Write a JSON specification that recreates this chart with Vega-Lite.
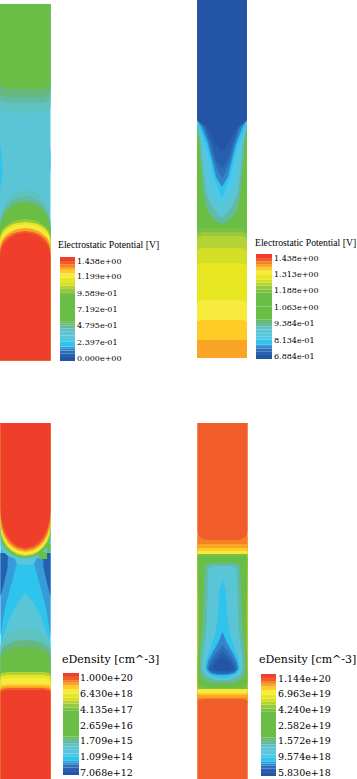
{"$schema":"https://vega.github.io/schema/vega-lite/v6.json","padding":0,"background":"white","config":{"view":{"stroke":null}},"spacing":60,
"datasets":{
"legendBands":[{"level":0,"from":0,"to":1},{"level":1,"from":1,"to":1.9},{"level":2,"from":1.9,"to":2.6},{"level":3,"from":2.6,"to":3.2},{"level":4,"from":3.2,"to":3.6},{"level":5,"from":3.6,"to":4.8},{"level":6,"from":4.8,"to":5.5},{"level":7,"from":5.5,"to":6.4},{"level":8,"from":6.4,"to":7.3},{"level":9,"from":7.3,"to":8.1},{"level":10,"from":8.1,"to":8.9},{"level":11,"from":8.9,"to":9.4},{"level":12,"from":9.4,"to":9.8},{"level":13,"from":9.8,"to":13},{"level":14,"from":13,"to":16.5},{"level":15,"from":16.5,"to":17.2},{"level":16,"from":17.2,"to":18.2},{"level":17,"from":18.2,"to":18.9},{"level":18,"from":18.9,"to":19.7},{"level":19,"from":19.7,"to":20.8},{"level":20,"from":20.8,"to":21.9},{"level":21,"from":21.9,"to":22.8},{"level":22,"from":22.8,"to":23.5},{"level":23,"from":23.5,"to":24.2},{"level":24,"from":24.2,"to":25},{"level":25,"from":25,"to":26}],
"p1":[
{"s":1,"l":8,"y":4,"a":0,"b":50.5},{"s":1,"l":8,"y":360.5,"a":0,"b":50.5},
{"s":2,"l":9,"y":4,"a":0,"b":50.5},{"s":2,"l":9,"y":108,"a":0,"b":50.5},{"s":2,"l":9,"y":112,"a":4,"b":46.5},{"s":2,"l":9,"y":113,"a":10,"b":40.5},
{"s":3,"l":10,"y":4,"a":0,"b":50.5},{"s":3,"l":10,"y":99,"a":0,"b":50.5},{"s":3,"l":10,"y":102,"a":4,"b":46.5},{"s":3,"l":10,"y":103,"a":10,"b":40.5},
{"s":4,"l":11,"y":4,"a":0,"b":50.5},{"s":4,"l":11,"y":93,"a":0,"b":50.5},{"s":4,"l":11,"y":96,"a":4,"b":46.5},{"s":4,"l":11,"y":97,"a":10,"b":40.5},
{"s":5,"l":13,"y":4,"a":0,"b":50.5},{"s":5,"l":13,"y":84,"a":0,"b":50.5},{"s":5,"l":13,"y":87,"a":2,"b":48.5},{"s":5,"l":13,"y":89,"a":8,"b":42},
{"s":6,"l":5,"y":143,"a":0,"b":0},{"s":6,"l":5,"y":155,"a":0,"b":2},{"s":6,"l":5,"y":175,"a":0,"b":2.5},{"s":6,"l":5,"y":190,"a":0,"b":0},
{"s":7,"l":5,"y":147,"a":50.5,"b":50.5},{"s":7,"l":5,"y":160,"a":49,"b":50.5},{"s":7,"l":5,"y":175,"a":50.5,"b":50.5},
{"s":8,"l":9,"y":190,"a":25.25,"b":25.25},{"s":8,"l":9,"y":191.6,"a":17.5,"b":33},{"s":8,"l":9,"y":194.8,"a":12,"b":38.5},{"s":8,"l":9,"y":199.6,"a":7.5,"b":43},{"s":8,"l":9,"y":206,"a":3.5,"b":47},{"s":8,"l":9,"y":214,"a":1,"b":49.5},{"s":8,"l":9,"y":222,"a":0,"b":50.5},{"s":8,"l":9,"y":360.5,"a":0,"b":50.5},
{"s":9,"l":10,"y":196,"a":25.25,"b":25.25},{"s":9,"l":10,"y":197.5,"a":17.5,"b":33},{"s":9,"l":10,"y":200.5,"a":12,"b":38.5},{"s":9,"l":10,"y":205,"a":7.5,"b":43},{"s":9,"l":10,"y":211,"a":3.5,"b":47},{"s":9,"l":10,"y":218.5,"a":1,"b":49.5},{"s":9,"l":10,"y":226,"a":0,"b":50.5},{"s":9,"l":10,"y":360.5,"a":0,"b":50.5},
{"s":10,"l":12,"y":201,"a":25.25,"b":25.25},{"s":10,"l":12,"y":202.4,"a":17.5,"b":33},{"s":10,"l":12,"y":205,"a":12,"b":38.5},{"s":10,"l":12,"y":209,"a":7.5,"b":43},{"s":10,"l":12,"y":215,"a":3.5,"b":47},{"s":10,"l":12,"y":222,"a":1,"b":49.5},{"s":10,"l":12,"y":229,"a":0,"b":50.5},{"s":10,"l":12,"y":360.5,"a":0,"b":50.5},
{"s":11,"l":13,"y":204,"a":25.25,"b":25.25},{"s":11,"l":13,"y":205.2,"a":17.5,"b":33},{"s":11,"l":13,"y":207.5,"a":12,"b":38.5},{"s":11,"l":13,"y":211.5,"a":7.5,"b":43},{"s":11,"l":13,"y":216.5,"a":3.5,"b":47},{"s":11,"l":13,"y":223,"a":1,"b":49.5},{"s":11,"l":13,"y":230,"a":0,"b":50.5},{"s":11,"l":13,"y":360.5,"a":0,"b":50.5},
{"s":12,"l":16,"y":219,"a":25.25,"b":25.25},{"s":12,"l":16,"y":220,"a":17.5,"b":33},{"s":12,"l":16,"y":222,"a":12,"b":38.5},{"s":12,"l":16,"y":224.8,"a":7.5,"b":43},{"s":12,"l":16,"y":228,"a":3.5,"b":47},{"s":12,"l":16,"y":232,"a":1,"b":49.5},{"s":12,"l":16,"y":236,"a":0,"b":50.5},{"s":12,"l":16,"y":360.5,"a":0,"b":50.5},
{"s":13,"l":19,"y":222,"a":25.25,"b":25.25},{"s":13,"l":19,"y":223,"a":17.5,"b":33},{"s":13,"l":19,"y":224.5,"a":12,"b":38.5},{"s":13,"l":19,"y":227,"a":7.5,"b":43},{"s":13,"l":19,"y":230.5,"a":3.5,"b":47},{"s":13,"l":19,"y":235,"a":1,"b":49.5},{"s":13,"l":19,"y":239,"a":0,"b":50.5},{"s":13,"l":19,"y":360.5,"a":0,"b":50.5},
{"s":14,"l":20,"y":224,"a":25.25,"b":25.25},{"s":14,"l":20,"y":225,"a":17.5,"b":33},{"s":14,"l":20,"y":227,"a":12,"b":38.5},{"s":14,"l":20,"y":230,"a":7.5,"b":43},{"s":14,"l":20,"y":233.5,"a":3.5,"b":47},{"s":14,"l":20,"y":238,"a":1,"b":49.5},{"s":14,"l":20,"y":243,"a":0,"b":50.5},{"s":14,"l":20,"y":360.5,"a":0,"b":50.5},
{"s":15,"l":22,"y":228,"a":25.25,"b":25.25},{"s":15,"l":22,"y":229,"a":17.5,"b":33},{"s":15,"l":22,"y":231,"a":12,"b":38.5},{"s":15,"l":22,"y":234,"a":7.5,"b":43},{"s":15,"l":22,"y":237.5,"a":3.5,"b":47},{"s":15,"l":22,"y":242,"a":1,"b":49.5},{"s":15,"l":22,"y":247,"a":0,"b":50.5},{"s":15,"l":22,"y":360.5,"a":0,"b":50.5},
{"s":16,"l":24,"y":231,"a":25.25,"b":25.25},{"s":16,"l":24,"y":232,"a":17.5,"b":33},{"s":16,"l":24,"y":234,"a":12,"b":38.5},{"s":16,"l":24,"y":237,"a":7.5,"b":43},{"s":16,"l":24,"y":241,"a":3.5,"b":47},{"s":16,"l":24,"y":246,"a":1,"b":49.5},{"s":16,"l":24,"y":251,"a":0,"b":50.5},{"s":16,"l":24,"y":360.5,"a":0,"b":50.5},
{"s":17,"l":25,"y":233,"a":25.25,"b":25.25},{"s":17,"l":25,"y":234,"a":17.5,"b":33},{"s":17,"l":25,"y":236.5,"a":12,"b":38.5},{"s":17,"l":25,"y":240,"a":7.5,"b":43},{"s":17,"l":25,"y":244.5,"a":3.5,"b":47},{"s":17,"l":25,"y":250,"a":1,"b":49.5},{"s":17,"l":25,"y":256,"a":0,"b":50.5},{"s":17,"l":25,"y":360.5,"a":0,"b":50.5}
],
"p2":[
{"s":1,"l":13,"y":120,"a":0,"b":50},{"s":1,"l":13,"y":358,"a":0,"b":50},
{"s":2,"l":15,"y":228,"a":6,"b":44},{"s":2,"l":15,"y":230,"a":1.5,"b":48.5},{"s":2,"l":15,"y":232,"a":0,"b":50},{"s":2,"l":15,"y":358,"a":0,"b":50},
{"s":3,"l":16,"y":232,"a":6,"b":44},{"s":3,"l":16,"y":233.5,"a":1.5,"b":48.5},{"s":3,"l":16,"y":235,"a":0,"b":50},{"s":3,"l":16,"y":358,"a":0,"b":50},
{"s":4,"l":17,"y":236,"a":6,"b":44},{"s":4,"l":17,"y":237.5,"a":1.5,"b":48.5},{"s":4,"l":17,"y":240,"a":0,"b":50},{"s":4,"l":17,"y":358,"a":0,"b":50},
{"s":5,"l":18,"y":248,"a":6,"b":44},{"s":5,"l":18,"y":249.5,"a":1.5,"b":48.5},{"s":5,"l":18,"y":252,"a":0,"b":50},{"s":5,"l":18,"y":358,"a":0,"b":50},
{"s":6,"l":19,"y":263,"a":6,"b":44},{"s":6,"l":19,"y":264.5,"a":1.5,"b":48.5},{"s":6,"l":19,"y":267,"a":0,"b":50},{"s":6,"l":19,"y":358,"a":0,"b":50},
{"s":7,"l":20,"y":300,"a":6,"b":44},{"s":7,"l":20,"y":301.5,"a":1.5,"b":48.5},{"s":7,"l":20,"y":303,"a":0,"b":50},{"s":7,"l":20,"y":358,"a":0,"b":50},
{"s":8,"l":21,"y":320,"a":6,"b":44},{"s":8,"l":21,"y":321,"a":1.5,"b":48.5},{"s":8,"l":21,"y":322,"a":0,"b":50},{"s":8,"l":21,"y":358,"a":0,"b":50},
{"s":9,"l":22,"y":340,"a":0,"b":50},{"s":9,"l":22,"y":358,"a":0,"b":50},
{"s":10,"l":10,"y":122,"a":0,"b":50},{"s":10,"l":10,"y":125,"a":0,"b":50},{"s":10,"l":10,"y":143,"a":2.3,"b":47.7},{"s":10,"l":10,"y":160,"a":3.5,"b":46.5},{"s":10,"l":10,"y":193,"a":6.5,"b":43.5},{"s":10,"l":10,"y":210,"a":10,"b":40},{"s":10,"l":10,"y":220,"a":17,"b":33},{"s":10,"l":10,"y":224,"a":25,"b":25},
{"s":11,"l":8,"y":120,"a":0,"b":50},{"s":11,"l":8,"y":127,"a":0.5,"b":49.5},{"s":11,"l":8,"y":143,"a":4,"b":46},{"s":11,"l":8,"y":160,"a":5.5,"b":44.5},{"s":11,"l":8,"y":177,"a":7,"b":43},{"s":11,"l":8,"y":193,"a":9.5,"b":40.5},{"s":11,"l":8,"y":203,"a":13,"b":37},{"s":11,"l":8,"y":213,"a":20,"b":30},{"s":11,"l":8,"y":218,"a":25,"b":25},
{"s":12,"l":6,"y":120,"a":0,"b":50},{"s":12,"l":6,"y":127,"a":1,"b":49},{"s":12,"l":6,"y":143,"a":6,"b":44},{"s":12,"l":6,"y":160,"a":8.5,"b":41.5},{"s":12,"l":6,"y":177,"a":11,"b":39},{"s":12,"l":6,"y":190,"a":15,"b":35},{"s":12,"l":6,"y":200,"a":20,"b":30},{"s":12,"l":6,"y":205,"a":25,"b":25},
{"s":13,"l":5,"y":120,"a":0,"b":50},{"s":13,"l":5,"y":127,"a":1.7,"b":48.3},{"s":13,"l":5,"y":143,"a":8,"b":42},{"s":13,"l":5,"y":160,"a":13,"b":37},{"s":13,"l":5,"y":177,"a":16.7,"b":33.3},{"s":13,"l":5,"y":190,"a":21.7,"b":28.3},{"s":13,"l":5,"y":197,"a":25,"b":25},
{"s":14,"l":3,"y":120,"a":0,"b":50},{"s":14,"l":3,"y":127,"a":4.3,"b":45.7},{"s":14,"l":3,"y":143,"a":10.7,"b":39.3},{"s":14,"l":3,"y":160,"a":15,"b":35},{"s":14,"l":3,"y":177,"a":19,"b":31},{"s":14,"l":3,"y":187,"a":25,"b":25},
{"s":15,"l":2,"y":120,"a":0,"b":50},{"s":15,"l":2,"y":127,"a":6.7,"b":43.3},{"s":15,"l":2,"y":143,"a":12.3,"b":37.7},{"s":15,"l":2,"y":160,"a":16.7,"b":33.3},{"s":15,"l":2,"y":173,"a":21.7,"b":28.3},{"s":15,"l":2,"y":178,"a":25,"b":25},
{"s":16,"l":1,"y":120,"a":0,"b":50},{"s":16,"l":1,"y":127,"a":8,"b":42},{"s":16,"l":1,"y":143,"a":14.3,"b":35.7},{"s":16,"l":1,"y":160,"a":19,"b":31},{"s":16,"l":1,"y":168,"a":25,"b":25},
{"s":17,"l":0,"y":0,"a":0,"b":50},{"s":17,"l":0,"y":120,"a":0,"b":50},{"s":17,"l":0,"y":127,"a":10,"b":40},{"s":17,"l":0,"y":143,"a":18,"b":32},{"s":17,"l":0,"y":152,"a":25,"b":25}
],
"p3":[
{"s":1,"l":5,"y":0,"a":0.5,"b":50.5},{"s":1,"l":5,"y":358,"a":0.5,"b":50.5},
{"s":2,"l":4,"y":130,"a":0.5,"b":16},{"s":2,"l":4,"y":140,"a":0.5,"b":17},{"s":2,"l":4,"y":155,"a":0.5,"b":13},{"s":2,"l":4,"y":170,"a":0.5,"b":9},{"s":2,"l":4,"y":185,"a":0.5,"b":5},{"s":2,"l":4,"y":200,"a":0.5,"b":2.5},{"s":2,"l":4,"y":213,"a":0.5,"b":0.5},
{"s":3,"l":4,"y":130,"a":35,"b":50.5},{"s":3,"l":4,"y":140,"a":34,"b":50.5},{"s":3,"l":4,"y":155,"a":38,"b":50.5},{"s":3,"l":4,"y":170,"a":42,"b":50.5},{"s":3,"l":4,"y":185,"a":46,"b":50.5},{"s":3,"l":4,"y":200,"a":48.5,"b":50.5},{"s":3,"l":4,"y":213,"a":50.5,"b":50.5},
{"s":4,"l":1,"y":130,"a":0.5,"b":8},{"s":4,"l":1,"y":145,"a":0.5,"b":7.5},{"s":4,"l":1,"y":160,"a":0.5,"b":4},{"s":4,"l":1,"y":170,"a":0.5,"b":1.5},{"s":4,"l":1,"y":173,"a":0.5,"b":0.5},
{"s":5,"l":1,"y":130,"a":43,"b":50.5},{"s":5,"l":1,"y":145,"a":43.5,"b":50.5},{"s":5,"l":1,"y":160,"a":47,"b":50.5},{"s":5,"l":1,"y":170,"a":49.5,"b":50.5},{"s":5,"l":1,"y":173,"a":50.5,"b":50.5},
{"s":6,"l":7,"y":132,"a":13,"b":38},{"s":6,"l":7,"y":141,"a":17,"b":34},{"s":6,"l":7,"y":142,"a":20,"b":31},
{"s":7,"l":8,"y":170,"a":25.5,"b":25.5},{"s":7,"l":8,"y":180,"a":17.5,"b":33.5},{"s":7,"l":8,"y":195,"a":9.5,"b":41.5},{"s":7,"l":8,"y":210,"a":4.5,"b":46.5},{"s":7,"l":8,"y":221,"a":0.5,"b":50.5},{"s":7,"l":8,"y":358,"a":0.5,"b":50.5},
{"s":8,"l":9,"y":205,"a":25.5,"b":25.5},{"s":8,"l":9,"y":206,"a":17.7,"b":33.3},{"s":8,"l":9,"y":208,"a":12.3,"b":38.7},{"s":8,"l":9,"y":211.3,"a":7.6,"b":43.4},{"s":8,"l":9,"y":215.5,"a":3.8,"b":47.2},{"s":8,"l":9,"y":220.75,"a":1.3,"b":49.7},{"s":8,"l":9,"y":226,"a":0.5,"b":50.5},{"s":8,"l":9,"y":358,"a":0.5,"b":50.5},
{"s":9,"l":11,"y":217,"a":25.5,"b":25.5},{"s":9,"l":11,"y":217.7,"a":17.7,"b":33.3},{"s":9,"l":11,"y":219,"a":12.3,"b":38.7},{"s":9,"l":11,"y":221,"a":7.6,"b":43.4},{"s":9,"l":11,"y":223.5,"a":3.8,"b":47.2},{"s":9,"l":11,"y":226.75,"a":1.3,"b":49.7},{"s":9,"l":11,"y":230,"a":0.5,"b":50.5},{"s":9,"l":11,"y":358,"a":0.5,"b":50.5},
{"s":10,"l":13,"y":224,"a":25.5,"b":25.5},{"s":10,"l":13,"y":224.7,"a":17.7,"b":33.3},{"s":10,"l":13,"y":226,"a":12.3,"b":38.7},{"s":10,"l":13,"y":228,"a":7.6,"b":43.4},{"s":10,"l":13,"y":230.5,"a":3.8,"b":47.2},{"s":10,"l":13,"y":233.75,"a":1.3,"b":49.7},{"s":10,"l":13,"y":237,"a":0.5,"b":50.5},{"s":10,"l":13,"y":358,"a":0.5,"b":50.5},
{"s":11,"l":17,"y":249,"a":8,"b":43},{"s":11,"l":17,"y":250,"a":1.5,"b":49.5},{"s":11,"l":17,"y":251,"a":0.5,"b":50.5},{"s":11,"l":17,"y":358,"a":0.5,"b":50.5},
{"s":12,"l":19,"y":252,"a":8,"b":43},{"s":12,"l":19,"y":253,"a":1.5,"b":49.5},{"s":12,"l":19,"y":254,"a":0.5,"b":50.5},{"s":12,"l":19,"y":358,"a":0.5,"b":50.5},
{"s":13,"l":20,"y":255,"a":8,"b":43},{"s":13,"l":20,"y":256,"a":1.5,"b":49.5},{"s":13,"l":20,"y":257,"a":0.5,"b":50.5},{"s":13,"l":20,"y":358,"a":0.5,"b":50.5},
{"s":14,"l":21,"y":261,"a":8,"b":43},{"s":14,"l":21,"y":262,"a":1.5,"b":49.5},{"s":14,"l":21,"y":263,"a":0.5,"b":50.5},{"s":14,"l":21,"y":358,"a":0.5,"b":50.5},
{"s":15,"l":22,"y":263,"a":8,"b":43},{"s":15,"l":22,"y":264,"a":1.5,"b":49.5},{"s":15,"l":22,"y":265,"a":0.5,"b":50.5},{"s":15,"l":22,"y":358,"a":0.5,"b":50.5},
{"s":16,"l":24,"y":265,"a":8,"b":43},{"s":16,"l":24,"y":266,"a":1.5,"b":49.5},{"s":16,"l":24,"y":267,"a":0.5,"b":50.5},{"s":16,"l":24,"y":358,"a":0.5,"b":50.5},
{"s":17,"l":25,"y":267,"a":8,"b":43},{"s":17,"l":25,"y":268,"a":1.5,"b":49.5},{"s":17,"l":25,"y":269,"a":0.5,"b":50.5},{"s":17,"l":25,"y":358,"a":0.5,"b":50.5},
{"s":18,"l":8,"y":0,"a":0.5,"b":50.5},{"s":18,"l":8,"y":122,"a":0.5,"b":50.5},{"s":18,"l":8,"y":125.75,"a":1.3,"b":49.7},{"s":18,"l":8,"y":129.5,"a":3.8,"b":47.2},{"s":18,"l":8,"y":132.5,"a":7.6,"b":43.4},{"s":18,"l":8,"y":134.75,"a":12.3,"b":38.7},{"s":18,"l":8,"y":136.25,"a":17.7,"b":33.3},{"s":18,"l":8,"y":137,"a":25.5,"b":25.5},
{"s":19,"l":13,"y":0,"a":0.5,"b":50.5},{"s":19,"l":13,"y":112,"a":0.5,"b":50.5},{"s":19,"l":13,"y":117.75,"a":1.3,"b":49.7},{"s":19,"l":13,"y":123.5,"a":3.8,"b":47.2},{"s":19,"l":13,"y":128,"a":7.6,"b":43.4},{"s":19,"l":13,"y":131.5,"a":12.3,"b":38.7},{"s":19,"l":13,"y":133.75,"a":17.7,"b":33.3},{"s":19,"l":13,"y":135,"a":25.5,"b":25.5},
{"s":20,"l":17,"y":0,"a":0.5,"b":50.5},{"s":20,"l":17,"y":106,"a":0.5,"b":50.5},{"s":20,"l":17,"y":113,"a":1.3,"b":49.7},{"s":20,"l":17,"y":120,"a":3.8,"b":47.2},{"s":20,"l":17,"y":125,"a":7.6,"b":43.4},{"s":20,"l":17,"y":129,"a":12.3,"b":38.7},{"s":20,"l":17,"y":132,"a":17.7,"b":33.3},{"s":20,"l":17,"y":133.5,"a":25.5,"b":25.5},
{"s":21,"l":20,"y":0,"a":0.5,"b":50.5},{"s":21,"l":20,"y":102,"a":0.5,"b":50.5},{"s":21,"l":20,"y":109.5,"a":1.3,"b":49.7},{"s":21,"l":20,"y":117,"a":3.8,"b":47.2},{"s":21,"l":20,"y":123,"a":7.6,"b":43.4},{"s":21,"l":20,"y":127.5,"a":12.3,"b":38.7},{"s":21,"l":20,"y":130.5,"a":17.7,"b":33.3},{"s":21,"l":20,"y":132,"a":25.5,"b":25.5},
{"s":22,"l":22,"y":0,"a":0.5,"b":50.5},{"s":22,"l":22,"y":98,"a":0.5,"b":50.5},{"s":22,"l":22,"y":105.75,"a":1.3,"b":49.7},{"s":22,"l":22,"y":113.5,"a":3.8,"b":47.2},{"s":22,"l":22,"y":119.7,"a":7.6,"b":43.4},{"s":22,"l":22,"y":124.35,"a":12.3,"b":38.7},{"s":22,"l":22,"y":127.5,"a":17.7,"b":33.3},{"s":22,"l":22,"y":129,"a":25.5,"b":25.5},
{"s":23,"l":24,"y":0,"a":0.5,"b":50.5},{"s":23,"l":24,"y":92,"a":0.5,"b":50.5},{"s":23,"l":24,"y":100.75,"a":1.3,"b":49.7},{"s":23,"l":24,"y":109.5,"a":3.8,"b":47.2},{"s":23,"l":24,"y":116.5,"a":7.6,"b":43.4},{"s":23,"l":24,"y":121.75,"a":12.3,"b":38.7},{"s":23,"l":24,"y":125,"a":17.7,"b":33.3},{"s":23,"l":24,"y":127,"a":25.5,"b":25.5},
{"s":24,"l":25,"y":0,"a":0.5,"b":50.5},{"s":24,"l":25,"y":85,"a":0.5,"b":50.5},{"s":24,"l":25,"y":95,"a":1.3,"b":49.7},{"s":24,"l":25,"y":105,"a":3.8,"b":47.2},{"s":24,"l":25,"y":113,"a":7.6,"b":43.4},{"s":24,"l":25,"y":119,"a":12.3,"b":38.7},{"s":24,"l":25,"y":123,"a":17.7,"b":33.3},{"s":24,"l":25,"y":125,"a":25.5,"b":25.5},
{"s":25,"l":13,"y":129,"a":39,"b":47},{"s":25,"l":13,"y":136,"a":39,"b":47},
{"s":26,"l":13,"y":121,"a":47,"b":50.5},{"s":26,"l":13,"y":129,"a":47,"b":50.5}
],
"p4":[
{"s":1,"l":24,"y":0,"a":0.5,"b":50.5},{"s":1,"l":24,"y":358,"a":0.5,"b":50.5},
{"s":2,"l":23,"y":112,"a":0.5,"b":50.5},{"s":2,"l":23,"y":280,"a":0.5,"b":50.5},
{"s":3,"l":24,"y":0,"a":0.5,"b":50.5},{"s":3,"l":24,"y":108,"a":0.5,"b":50.5},{"s":3,"l":24,"y":113,"a":1.5,"b":49.5},{"s":3,"l":24,"y":116,"a":6,"b":45},{"s":3,"l":24,"y":117,"a":10,"b":41},
{"s":4,"l":24,"y":276,"a":8,"b":43},{"s":4,"l":24,"y":277,"a":2,"b":49},{"s":4,"l":24,"y":278,"a":0.5,"b":50.5},{"s":4,"l":24,"y":358,"a":0.5,"b":50.5},
{"s":5,"l":22,"y":121,"a":0.5,"b":50.5},{"s":5,"l":22,"y":275,"a":0.5,"b":50.5},
{"s":6,"l":21,"y":125,"a":0.5,"b":50.5},{"s":6,"l":21,"y":272,"a":0.5,"b":50.5},
{"s":7,"l":20,"y":128,"a":0.5,"b":50.5},{"s":7,"l":20,"y":270,"a":0.5,"b":50.5},
{"s":8,"l":15,"y":131,"a":0.5,"b":50.5},{"s":8,"l":15,"y":266,"a":0.5,"b":50.5},
{"s":9,"l":13,"y":133,"a":3,"b":48},{"s":9,"l":13,"y":134,"a":0.5,"b":50.5},{"s":9,"l":13,"y":172,"a":1,"b":50},{"s":9,"l":13,"y":180,"a":2.3,"b":48.7},{"s":9,"l":13,"y":222,"a":2.3,"b":48.7},{"s":9,"l":13,"y":232,"a":1,"b":50},{"s":9,"l":13,"y":260,"a":0.5,"b":50.5},{"s":9,"l":13,"y":264,"a":5,"b":46},{"s":9,"l":13,"y":265,"a":12,"b":39},
{"s":10,"l":10,"y":140,"a":13,"b":38},{"s":10,"l":10,"y":142,"a":8,"b":43},{"s":10,"l":10,"y":160,"a":7,"b":44},{"s":10,"l":10,"y":200,"a":6,"b":45},{"s":10,"l":10,"y":225,"a":3.5,"b":47.5},{"s":10,"l":10,"y":248,"a":2.5,"b":48.5},{"s":10,"l":10,"y":256,"a":6,"b":45},{"s":10,"l":10,"y":260,"a":16,"b":35},
{"s":11,"l":8,"y":143,"a":15,"b":36},{"s":11,"l":8,"y":146,"a":11,"b":40},{"s":11,"l":8,"y":175,"a":10.5,"b":40.5},{"s":11,"l":8,"y":210,"a":9,"b":42},{"s":11,"l":8,"y":230,"a":6,"b":45},{"s":11,"l":8,"y":245,"a":5,"b":46},{"s":11,"l":8,"y":252,"a":8,"b":43},{"s":11,"l":8,"y":257,"a":18,"b":33},
{"s":12,"l":5,"y":156,"a":25.5,"b":25.5},{"s":12,"l":5,"y":166,"a":22.5,"b":28.5},{"s":12,"l":5,"y":190,"a":21,"b":30},{"s":12,"l":5,"y":210,"a":18.5,"b":32.5},{"s":12,"l":5,"y":225,"a":13.5,"b":37.5},{"s":12,"l":5,"y":235,"a":10,"b":41},{"s":12,"l":5,"y":244,"a":8,"b":43},{"s":12,"l":5,"y":250,"a":10,"b":41},{"s":12,"l":5,"y":254,"a":18,"b":33},{"s":12,"l":5,"y":255,"a":24,"b":27},
{"s":13,"l":3,"y":209,"a":25.5,"b":25.5},{"s":13,"l":3,"y":220,"a":21,"b":30},{"s":13,"l":3,"y":230,"a":15,"b":36},{"s":13,"l":3,"y":238,"a":11,"b":40},{"s":13,"l":3,"y":246,"a":9.5,"b":41.5},{"s":13,"l":3,"y":250,"a":13,"b":38},{"s":13,"l":3,"y":252,"a":20,"b":31},
{"s":14,"l":2,"y":222,"a":25.5,"b":25.5},{"s":14,"l":2,"y":232,"a":17,"b":34},{"s":14,"l":2,"y":240,"a":12.5,"b":38.5},{"s":14,"l":2,"y":246,"a":11,"b":40},{"s":14,"l":2,"y":250,"a":15,"b":36},{"s":14,"l":2,"y":251,"a":22,"b":29},
{"s":15,"l":1,"y":228,"a":25.5,"b":25.5},{"s":15,"l":1,"y":236,"a":18,"b":33},{"s":15,"l":1,"y":243,"a":13,"b":38},{"s":15,"l":1,"y":247,"a":12,"b":39},{"s":15,"l":1,"y":249,"a":17,"b":34},{"s":15,"l":1,"y":250,"a":24,"b":27},
{"s":16,"l":0,"y":234,"a":25.5,"b":25.5},{"s":16,"l":0,"y":240,"a":18,"b":33},{"s":16,"l":0,"y":245,"a":15,"b":36},{"s":16,"l":0,"y":248,"a":20,"b":31}
]
},
"vconcat":[
{"spacing":0,"hconcat":[
{"width":52,"height":361,"data":{"name":"p1"},"mark":{"type":"area","orient":"horizontal"},"encoding":{"y":{"field":"y","type":"quantitative","scale":{"domain":[0,361],"reverse":true},"axis":null},"x":{"field":"a","type":"quantitative","stack":null,"scale":{"domain":[0,52]},"axis":null},"x2":{"field":"b"},"detail":{"field":"s","type":"nominal"},"color":{"field":"l","type":"ordinal","legend":null,"scale":{"domain":[0,1,2,3,4,5,6,7,8,9,10,11,12,13,14,15,16,17,18,19,20,21,22,23,24,25],"range":["#2354A5","#2560AE","#2C6FB9","#3585CB","#389BD9","#2FC4EE","#4FC7E6","#5AC6DC","#5BC5D8","#5EC2C0","#62BBA0","#66B87F","#6ABC57","#6ABD45","#6ABD45","#7AC143","#96C93D","#B5D334","#D4DE26","#E8E620","#F6EB3C","#FFCB27","#FBA526","#F58220","#F15D2A","#EF3F2A"]}}}},
{"width":145,"height":361,"layer":[
{"data":{"name":"legendBands"},"mark":{"type":"rect"},"encoding":{"x":{"value":8},"x2":{"value":23},"y":{"field":"from","type":"quantitative","scale":{"domain":[0,26],"range":[361,257]},"axis":null},"y2":{"field":"to"},"color":{"field":"level","type":"ordinal","legend":null,"scale":{"domain":[0,1,2,3,4,5,6,7,8,9,10,11,12,13,14,15,16,17,18,19,20,21,22,23,24,25],"range":["#2354A5","#2560AE","#2C6FB9","#3585CB","#389BD9","#2FC4EE","#4FC7E6","#5AC6DC","#5BC5D8","#5EC2C0","#62BBA0","#66B87F","#6ABC57","#6ABD45","#6ABD45","#7AC143","#96C93D","#B5D334","#D4DE26","#E8E620","#F6EB3C","#FFCB27","#FBA526","#F58220","#F15D2A","#EF3F2A"]}}}},
{"data":{"values":[{"t":"1.438e+00","at":24.75},{"t":"1.199e+00","at":21},{"t":"9.589e-01","at":16.75},{"t":"7.192e-01","at":12.75},{"t":"4.795e-01","at":8.75},{"t":"2.397e-01","at":4.5},{"t":"0.000e+00","at":0.5}]},"mark":{"type":"text","align":"left","baseline":"middle","x":25,"font":"DejaVu Serif","fontSize":8,"color":"#000"},"encoding":{"text":{"field":"t"},"y":{"field":"at","type":"quantitative","scale":{"domain":[0,26],"range":[361,257]},"axis":null}}},
{"data":{"values":[{"t":"Electrostatic Potential [V]"}]},"mark":{"type":"text","align":"left","baseline":"middle","x":6,"y":245,"font":"Liberation Serif","fontSize":9.7,"color":"#000"},"encoding":{"text":{"field":"t"}}}
]},
{"width":51,"height":361,"data":{"name":"p2"},"mark":{"type":"area","orient":"horizontal"},"encoding":{"y":{"field":"y","type":"quantitative","scale":{"domain":[0,361],"reverse":true},"axis":null},"x":{"field":"a","type":"quantitative","stack":null,"scale":{"domain":[0,51]},"axis":null},"x2":{"field":"b"},"detail":{"field":"s","type":"nominal"},"color":{"field":"l","type":"ordinal","legend":null,"scale":{"domain":[0,1,2,3,4,5,6,7,8,9,10,11,12,13,14,15,16,17,18,19,20,21,22,23,24,25],"range":["#2354A5","#2560AE","#2C6FB9","#3585CB","#389BD9","#2FC4EE","#4FC7E6","#5AC6DC","#5BC5D8","#5EC2C0","#62BBA0","#66B87F","#6ABC57","#6ABD45","#6ABD45","#7AC143","#96C93D","#B5D334","#D4DE26","#E8E620","#F6EB3C","#FFCB27","#FBA526","#F58220","#F15D2A","#EF3F2A"]}}}},
{"width":109,"height":361,"layer":[
{"data":{"name":"legendBands"},"mark":{"type":"rect"},"encoding":{"x":{"value":8},"x2":{"value":24},"y":{"field":"from","type":"quantitative","scale":{"domain":[0,26],"range":[359,254]},"axis":null},"y2":{"field":"to"},"color":{"field":"level","type":"ordinal","legend":null,"scale":{"domain":[0,1,2,3,4,5,6,7,8,9,10,11,12,13,14,15,16,17,18,19,20,21,22,23,24,25],"range":["#2354A5","#2560AE","#2C6FB9","#3585CB","#389BD9","#2FC4EE","#4FC7E6","#5AC6DC","#5BC5D8","#5EC2C0","#62BBA0","#66B87F","#6ABC57","#6ABD45","#6ABD45","#7AC143","#96C93D","#B5D334","#D4DE26","#E8E620","#F6EB3C","#FFCB27","#FBA526","#F58220","#F15D2A","#EF3F2A"]}}}},
{"data":{"values":[{"t":"1.438e+00","at":24.75},{"t":"1.313e+00","at":20.8},{"t":"1.188e+00","at":16.75},{"t":"1.063e+00","at":12.75},{"t":"9.384e-01","at":8.75},{"t":"8.134e-01","at":4.5},{"t":"6.884e-01","at":0.5}]},"mark":{"type":"text","align":"left","baseline":"middle","x":26,"font":"DejaVu Serif","fontSize":8,"color":"#000"},"encoding":{"text":{"field":"t"},"y":{"field":"at","type":"quantitative","scale":{"domain":[0,26],"range":[359,254]},"axis":null}}},
{"data":{"values":[{"t":"Electrostatic Potential [V]"}]},"mark":{"type":"text","align":"left","baseline":"middle","x":7,"y":243,"font":"Liberation Serif","fontSize":9.7,"color":"#000"},"encoding":{"text":{"field":"t"}}}
]}
]},
{"spacing":0,"hconcat":[
{"width":52,"height":358,"data":{"name":"p3"},"mark":{"type":"area","orient":"horizontal"},"encoding":{"y":{"field":"y","type":"quantitative","scale":{"domain":[0,358],"reverse":true},"axis":null},"x":{"field":"a","type":"quantitative","stack":null,"scale":{"domain":[0,52]},"axis":null},"x2":{"field":"b"},"detail":{"field":"s","type":"nominal"},"color":{"field":"l","type":"ordinal","legend":null,"scale":{"domain":[0,1,2,3,4,5,6,7,8,9,10,11,12,13,14,15,16,17,18,19,20,21,22,23,24,25],"range":["#2354A5","#2560AE","#2C6FB9","#3585CB","#389BD9","#2FC4EE","#4FC7E6","#5AC6DC","#5BC5D8","#5EC2C0","#62BBA0","#66B87F","#6ABC57","#6ABD45","#6ABD45","#7AC143","#96C93D","#B5D334","#D4DE26","#E8E620","#F6EB3C","#FFCB27","#FBA526","#F58220","#F15D2A","#EF3F2A"]}}}},
{"width":145,"height":358,"layer":[
{"data":{"name":"legendBands"},"mark":{"type":"rect"},"encoding":{"x":{"value":11},"x2":{"value":27},"y":{"field":"from","type":"quantitative","scale":{"domain":[0,26],"range":[352,250]},"axis":null},"y2":{"field":"to"},"color":{"field":"level","type":"ordinal","legend":null,"scale":{"domain":[0,1,2,3,4,5,6,7,8,9,10,11,12,13,14,15,16,17,18,19,20,21,22,23,24,25],"range":["#2354A5","#2560AE","#2C6FB9","#3585CB","#389BD9","#2FC4EE","#4FC7E6","#5AC6DC","#5BC5D8","#5EC2C0","#62BBA0","#66B87F","#6ABC57","#6ABD45","#6ABD45","#7AC143","#96C93D","#B5D334","#D4DE26","#E8E620","#F6EB3C","#FFCB27","#FBA526","#F58220","#F15D2A","#EF3F2A"]}}}},
{"data":{"values":[{"t":"1.000e+20","at":24.7},{"t":"6.430e+18","at":20.6},{"t":"4.135e+17","at":16.6},{"t":"2.659e+16","at":12.5},{"t":"1.709e+15","at":8.6},{"t":"1.099e+14","at":4.5},{"t":"7.068e+12","at":0.4}]},"mark":{"type":"text","align":"left","baseline":"middle","x":28,"font":"DejaVu Serif","fontSize":9.5,"color":"#000"},"encoding":{"text":{"field":"t"},"y":{"field":"at","type":"quantitative","scale":{"domain":[0,26],"range":[352,250]},"axis":null}}},
{"data":{"values":[{"t":"eDensity [cm^-3]"}]},"mark":{"type":"text","align":"left","baseline":"middle","x":10,"y":237,"font":"DejaVu Serif","fontSize":11,"color":"#000"},"encoding":{"text":{"field":"t"}}}
]},
{"width":51,"height":358,"data":{"name":"p4"},"mark":{"type":"area","orient":"horizontal"},"encoding":{"y":{"field":"y","type":"quantitative","scale":{"domain":[0,358],"reverse":true},"axis":null},"x":{"field":"a","type":"quantitative","stack":null,"scale":{"domain":[0,51]},"axis":null},"x2":{"field":"b"},"detail":{"field":"s","type":"nominal"},"color":{"field":"l","type":"ordinal","legend":null,"scale":{"domain":[0,1,2,3,4,5,6,7,8,9,10,11,12,13,14,15,16,17,18,19,20,21,22,23,24,25],"range":["#2354A5","#2560AE","#2C6FB9","#3585CB","#389BD9","#2FC4EE","#4FC7E6","#5AC6DC","#5BC5D8","#5EC2C0","#62BBA0","#66B87F","#6ABC57","#6ABD45","#6ABD45","#7AC143","#96C93D","#B5D334","#D4DE26","#E8E620","#F6EB3C","#FFCB27","#FBA526","#F58220","#F15D2A","#EF3F2A"]}}}},
{"width":109,"height":358,"layer":[
{"data":{"name":"legendBands"},"mark":{"type":"rect"},"encoding":{"x":{"value":13},"x2":{"value":28},"y":{"field":"from","type":"quantitative","scale":{"domain":[0,26],"range":[353,251]},"axis":null},"y2":{"field":"to"},"color":{"field":"level","type":"ordinal","legend":null,"scale":{"domain":[0,1,2,3,4,5,6,7,8,9,10,11,12,13,14,15,16,17,18,19,20,21,22,23,24,25],"range":["#2354A5","#2560AE","#2C6FB9","#3585CB","#389BD9","#2FC4EE","#4FC7E6","#5AC6DC","#5BC5D8","#5EC2C0","#62BBA0","#66B87F","#6ABC57","#6ABD45","#6ABD45","#7AC143","#96C93D","#B5D334","#D4DE26","#E8E620","#F6EB3C","#FFCB27","#FBA526","#F58220","#F15D2A","#EF3F2A"]}}}},
{"data":{"values":[{"t":"1.144e+20","at":24.7},{"t":"6.963e+19","at":20.9},{"t":"4.240e+19","at":16.9},{"t":"2.582e+19","at":12.7},{"t":"1.572e+19","at":8.9},{"t":"9.574e+18","at":4.8},{"t":"5.830e+18","at":0.7}]},"mark":{"type":"text","align":"left","baseline":"middle","x":30,"font":"DejaVu Serif","fontSize":9.5,"color":"#000"},"encoding":{"text":{"field":"t"},"y":{"field":"at","type":"quantitative","scale":{"domain":[0,26],"range":[353,251]},"axis":null}}},
{"data":{"values":[{"t":"eDensity [cm^-3]"}]},"mark":{"type":"text","align":"left","baseline":"middle","x":11,"y":237,"font":"DejaVu Serif","fontSize":11,"color":"#000"},"encoding":{"text":{"field":"t"}}}
]}
]}
]}
